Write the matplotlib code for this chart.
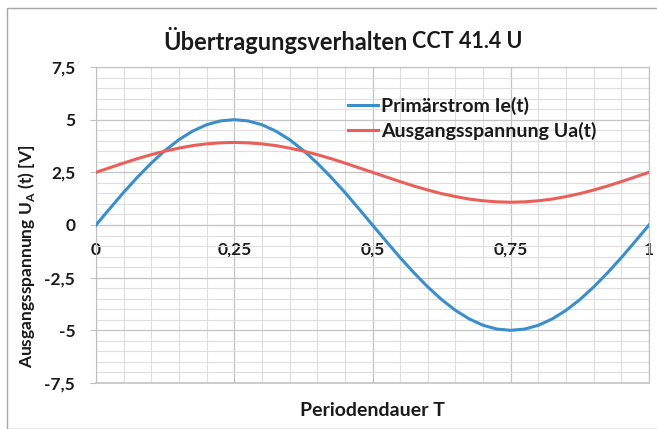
import matplotlib
matplotlib.use("Agg")
import matplotlib.pyplot as plt
from matplotlib.ticker import MultipleLocator, FuncFormatter
from matplotlib.patches import Rectangle

plt.rcParams['font.family'] = ['Lato', 'DejaVu Sans']

# time in periods
t = [0.0, 0.025, 0.05, 0.075, 0.1, 0.125, 0.15, 0.175, 0.2, 0.225,
     0.25, 0.275, 0.3, 0.325, 0.35, 0.375, 0.4, 0.425, 0.45, 0.475,
     0.5, 0.525, 0.55, 0.575, 0.6, 0.625, 0.65, 0.675, 0.7, 0.725,
     0.75, 0.775, 0.8, 0.825, 0.85, 0.875, 0.9, 0.925, 0.95, 0.975, 1.0]

# primary current Ie(t)
ie = [0.00, 0.78, 1.55, 2.27, 2.94, 3.54, 4.05, 4.46, 4.76, 4.94,
      5.00, 4.94, 4.76, 4.46, 4.05, 3.54, 2.94, 2.27, 1.55, 0.78,
      0.00, -0.78, -1.55, -2.27, -2.94, -3.54, -4.05, -4.46, -4.76, -4.94,
      -5.00, -4.94, -4.76, -4.46, -4.05, -3.54, -2.94, -2.27, -1.55, -0.78, 0.00]

# output voltage Ua(t)
ua = [2.50, 2.72, 2.94, 3.15, 3.34, 3.51, 3.65, 3.77, 3.85, 3.90,
      3.92, 3.90, 3.85, 3.77, 3.65, 3.51, 3.34, 3.15, 2.94, 2.72,
      2.50, 2.28, 2.06, 1.85, 1.66, 1.49, 1.35, 1.23, 1.15, 1.10,
      1.08, 1.10, 1.15, 1.23, 1.35, 1.49, 1.66, 1.85, 2.06, 2.28, 2.50]

x_ticks = [0, 0.25, 0.5, 0.75, 1]
y_ticks = [-7.5, -5, -2.5, 0, 2.5, 5, 7.5]

BLUE = '#3A8FCB'
RED = '#E9605A'
TXT = '#1a1a1a'

fig = plt.figure(figsize=(6.57, 4.29), dpi=100)
W, H = 657, 429

# outer chart frame
fig.patches.append(Rectangle((7 / W, 0.5 / H), 1.2, (H - 8.5) / H,
                             transform=fig.transFigure, fill=False,
                             edgecolor='#a6a6a6', linewidth=1.0))

ax = fig.add_axes([96 / W, 1 - 383 / H, 553 / W, 316 / H])
ax.set_xlim(0, 1)
ax.set_ylim(-7.5, 7.5)

ax.plot(t, ie, color=BLUE, lw=2.2, label='Primärstrom Ie(t)', zorder=3)
ax.plot(t, ua, color=RED, lw=2.2, label='Ausgangsspannung Ua(t)', zorder=3)

# grid
ax.xaxis.set_major_locator(MultipleLocator(0.25))
ax.xaxis.set_minor_locator(MultipleLocator(0.05))
ax.yaxis.set_major_locator(MultipleLocator(2.5))
ax.yaxis.set_minor_locator(MultipleLocator(0.5))
ax.grid(which='major', color='#c4c4c4', lw=0.9, zorder=0)
ax.grid(which='minor', color='#dedede', lw=0.8, zorder=0)
ax.set_axisbelow(True)

fmt = FuncFormatter(lambda v, p: ('%g' % v).replace('.', ','))
ax.xaxis.set_major_formatter(fmt)
ax.yaxis.set_major_formatter(fmt)
ax.set_xticks(x_ticks)
ax.set_yticks(y_ticks)

for s in ['top', 'right']:
    ax.spines[s].set_visible(False)
ax.spines['left'].set_color('#bfbfbf')
ax.spines['bottom'].set_position(('data', 0))
ax.spines['bottom'].set_color('#c4c4c4')
ax.axhline(-7.5, color='#c4c4c4', lw=1.2, zorder=1, clip_on=False)
ax.axhline(7.5, color='#c4c4c4', lw=0.9, zorder=1, clip_on=False)
ax.axvline(1, color='#c4c4c4', lw=0.9, zorder=1, clip_on=False)

ax.tick_params(axis='y', which='major', length=4, color='#bfbfbf', pad=11,
               labelsize=12.5, labelcolor=TXT)
ax.tick_params(axis='y', which='minor', length=0)
ax.tick_params(axis='x', which='both', length=0, pad=12,
               labelsize=12.5, labelcolor=TXT)
for lab in ax.get_xticklabels() + ax.get_yticklabels():
    lab.set_fontweight('bold')

ax.set_ylabel('Ausgangsspannung U$_\\mathregular{A}$ (t) [V]', fontsize=12.5,
              fontweight='bold', color=TXT)
ax.yaxis.set_label_coords(-0.107, 0.40)
fig.text(372 / W, 1 - 410 / H, 'Periodendauer T', fontsize=14,
         fontweight='bold', color=TXT, ha='center', va='center')

# title: main word plus smaller device designation
t1 = fig.text(163 / W, 1 - 40 / H, 'Übertragungsverhalten', fontsize=17,
              fontweight='bold', color=TXT, ha='left', va='center')
fig.canvas.draw()
bb = t1.get_window_extent()
fig.text(bb.x1 / W + 5 / W, 1 - 41 / H, 'CCT 41.4 U', fontsize=15.5,
         fontweight='bold', color=TXT, ha='left', va='center')

leg = ax.legend(loc='upper left', bbox_to_anchor=(340 / W, 1 - 89 / H),
                bbox_transform=fig.transFigure, frameon=False,
                prop={'size': 14, 'weight': 'bold'}, handlelength=1.55,
                handletextpad=0.15, labelspacing=0.35, borderaxespad=0)
for txt in leg.get_texts():
    txt.set_color(TXT)

fig.savefig('out.png', dpi=100, facecolor='white')
